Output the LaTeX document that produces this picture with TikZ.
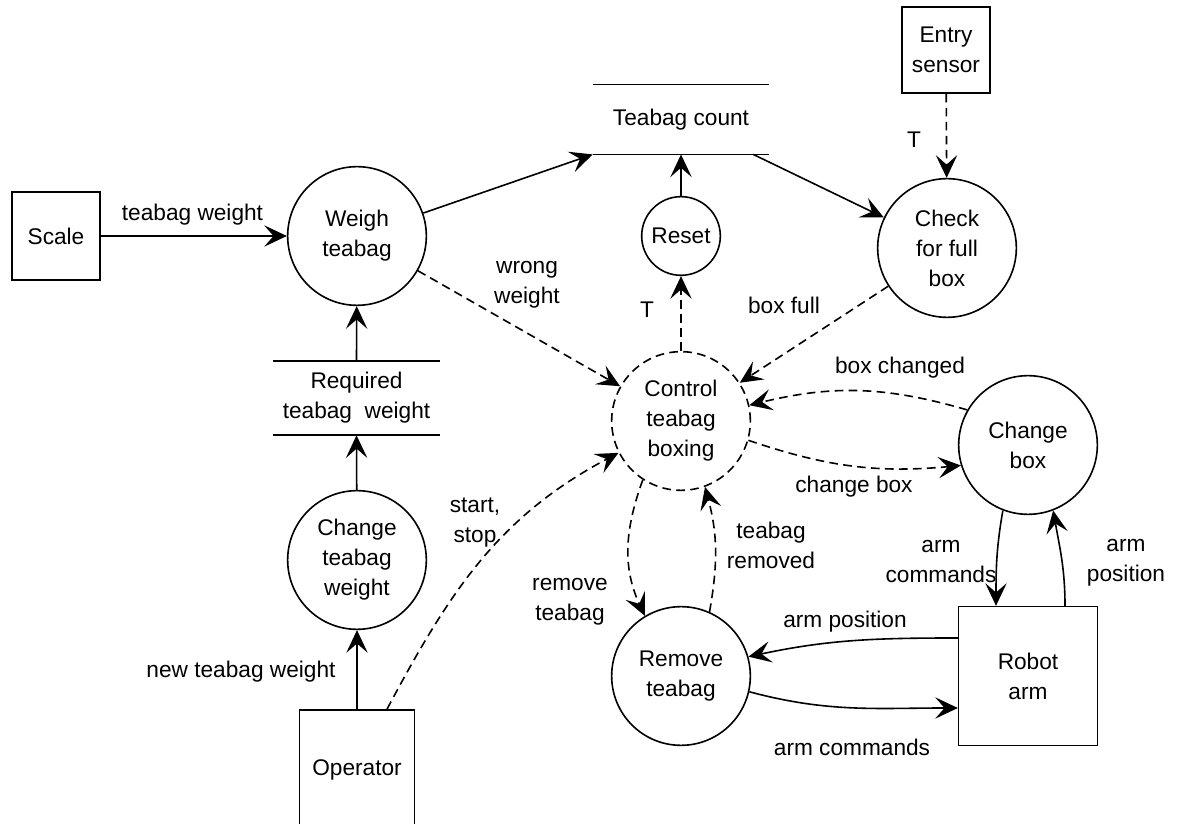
\documentclass[tikz,border=0pt]{standalone}
\usepackage{fontspec}
\setmainfont{Liberation Sans}
\usetikzlibrary{arrows.meta}

\tikzset{
  proc/.style={circle, draw, line width=1.2pt, minimum size=104pt, inner sep=0pt, align=center},
  term/.style={rectangle, draw, line width=1.2pt, inner sep=0pt, align=center},
  store/.style={inner sep=0pt, align=center},
  lbl/.style={inner sep=0pt, align=center},
  flow/.style={line width=1.2pt, -{Stealth[length=17pt,width=16pt,inset=7pt]}},
  ctrl/.style={flow, dash pattern=on 6.5pt off 4pt},
}

\begin{document}
\begin{tikzpicture}[x=0.75pt, y=0.75pt, font=\fontsize{17}{22.5}\selectfont]
\useasboundingbox (0,0) rectangle (1181,824);
\clip (0,0) rectangle (1181,824);

% processes and terminators
\node[term, minimum size=66pt] (scale) at (56,588) {Scale};
\node[proc] (weigh) at (357,588) {Weigh\\teabag};
\node[proc, minimum size=59pt] (reset) at (681,588) {Reset};
\node[term, minimum width=66pt, minimum height=64.5pt] (entry) at (946,774) {Entry\\sensor};
\node[proc] (check) at (947,576) {Check\\for full\\box};
\node[proc, dash pattern=on 6.5pt off 4pt] (control) at (681,403) {Control\\teabag\\boxing};
\node[proc] (change) at (1028,379) {Change\\box};
\node[proc] (remove) at (681,148) {Remove\\teabag};
\node[term, minimum size=104pt] (robot) at (1028,148) {Robot\\arm};
\node[proc] (chgw) at (357,264) {Change\\teabag\\weight};
\node[term, minimum width=86pt, minimum height=90pt] (op) at (357,54) {Operator};

% data stores
\node[store, minimum width=132pt, minimum height=52pt] (count) at (681,704.5) {Teabag count};
\draw[line width=1.2pt] (count.north west) -- (count.north east) (count.south west) -- (count.south east);
\node[store, minimum width=125pt, minimum height=55.5pt] (req) at (356.5,426) {Required\\teabag\ \ weight};
\draw[line width=1.2pt] (req.north west) -- (req.north east) (req.south west) -- (req.south east);

% flows
\draw[flow] (scale) -- (weigh);
\draw[flow] (weigh) -- (count.south west);
\draw[flow] ([xshift=-12pt]count.south east) -- (check);
\draw[flow] (reset) -- (reset |- count.south);
\draw[flow] (req.north) -- (weigh);
\draw[flow] (chgw) -- (req.south);
\draw[flow] (op) -- (chgw);
\draw[ctrl] (control) -- (reset);
\draw[ctrl] (entry) -- (check);
\draw[ctrl] (weigh) -- (control);
\draw[ctrl] (check) -- (control);
\draw[ctrl] (change.150) to[bend right=15] (control.13);
\draw[ctrl] (control.-16) to[bend right=12] (change.197);
\draw[ctrl] ([xshift=22.5pt]op.north) to[out=62, in=208] (control.207);
\draw[ctrl] (control.237) to[out=250, in=115] (remove.121);
\draw[ctrl] (remove.66) to[out=80, in=285] (control.290);
\draw[flow] (change.249) to[out=260, in=90] ([xshift=-24pt]robot.north);
\draw[flow] ([xshift=27.75pt]robot.north) to[out=90, in=280] (change.291);
\draw[flow] ([yshift=28.5pt]robot.west) to[out=180, in=12] (remove.16);
\draw[flow] (remove.-13) to[out=-15, in=180] ([yshift=-24pt]robot.west);

% labels
\node[lbl] (lweight) at (192.5,609) {teabag weight};
\node[lbl] (lwrong) at (527,539) {wrong\\weight};
\node[lbl] (ltreset) at (647,514) {T};
\node[lbl] (lfull) at (784,519) {box full};
\node[lbl] (ltentry) at (914,684) {T};
\node[lbl] (lchanged) at (900,456) {box changed};
\node[lbl] (lchange) at (854,337) {change box};
\node[lbl] (lstart) at (475,301) {start,\\stop};
\node[lbl] (lremoved) at (771,279) {teabag\\removed};
\node[lbl] (lremove) at (570,222) {remove\\teabag};
\node[lbl] (lcmdup) at (941,262) {arm\\commands};
\node[lbl] (lposup) at (1126,261) {arm\\position};
\node[lbl] (lposrm) at (845,202) {arm position};
\node[lbl] (lcmdrm) at (852,77) {arm commands};
\node[lbl] (lnew) at (241,152) {new teabag weight};
\end{tikzpicture}
\end{document}
